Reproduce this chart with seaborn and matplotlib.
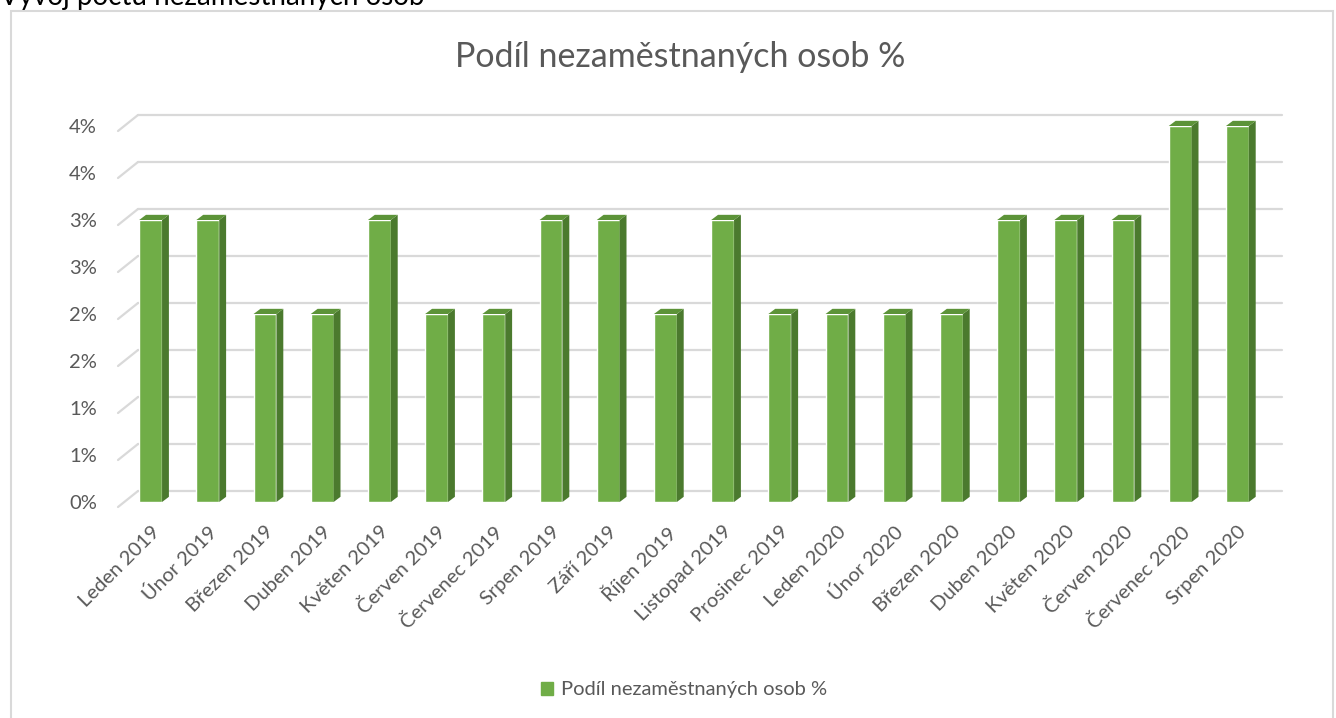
import matplotlib
matplotlib.use("Agg")
import math
import matplotlib.pyplot as plt
import matplotlib.transforms as mtransforms
from matplotlib.patches import Polygon, Rectangle, Patch
from matplotlib.ticker import FuncFormatter
import pandas as pd
import seaborn as sns

# data (percent)
mesice = ["Leden 2019", "Únor 2019", "Březen 2019", "Duben 2019", "Květen 2019",
          "Červen 2019", "Červenec 2019", "Srpen 2019", "Září 2019", "Říjen 2019",
          "Listopad 2019", "Prosinec 2019", "Leden 2020", "Únor 2020", "Březen 2020",
          "Duben 2020", "Květen 2020", "Červen 2020", "Červenec 2020", "Srpen 2020"]
podil = [3, 3, 2, 2, 3, 2, 2, 3, 3, 2, 3, 2, 2, 2, 2, 3, 3, 3, 4, 4]
y_ticks = [0, 0.5, 1, 1.5, 2, 2.5, 3, 3.5, 4]

nazev = "Podíl nezaměstnaných osob %"
nadpis_listu = "Vývoj počtu nezaměstnaných osob"

ZELENA = "#70AD47"
BOK = "#4B7A2E"
VRCH = "#5C9338"
SEDA = "#595959"
MRIZ = "#D9D9D9"

W, H = 1336, 718
sns.set_theme(style="white")
plt.rcParams['font.family'] = ['Lato', 'DejaVu Sans']

fig = plt.figure(figsize=(W / 100, H / 100), dpi=100)
ax = fig.add_axes([122 / W, 216 / H, 1144 / W, 376 / H])

df = pd.DataFrame({"mesic": mesice, "podil": podil})
sns.barplot(data=df, x="mesic", y="podil", color=ZELENA, saturation=1,
            width=0.4, ax=ax, zorder=3)
ax.set_xlim(-0.5, len(mesice) - 0.5)
ax.set_ylim(0, 4)

# zadni stena - mrizka posunuta (3D vzhled)
back = mtransforms.offset_copy(ax.transData, fig=fig, x=16, y=11, units='dots')
for yv in y_ticks:
    ax.plot([-0.5, len(mesice) - 0.5], [yv, yv], color=MRIZ, lw=1.6,
            transform=back, zorder=1, clip_on=False)
    p0 = ax.transData.transform((-0.5, yv))
    p0 = fig.transFigure.inverted().transform(p0 + [-4, -5])
    p1 = fig.transFigure.inverted().transform(back.transform((-0.5, yv)))
    fig.add_artist(plt.Line2D([p0[0], p1[0]], [p0[1], p1[1]],
                              color=MRIZ, lw=1.6))

# bocni a horni steny sloupcu
dx, dy = 0.12, 0.055
for p in list(ax.patches):
    x0, w, h = p.get_x(), p.get_width(), p.get_height()
    ax.add_patch(Polygon([(x0 + w, 0), (x0 + w + dx, dy), (x0 + w + dx, h + dy),
                          (x0 + w, h)], closed=True, fc=BOK, ec='none', zorder=3,
                         clip_on=False))
    ax.add_patch(Polygon([(x0, h), (x0 + w, h), (x0 + w + dx, h + dy),
                          (x0 + dx, h + dy)], closed=True, fc=VRCH, ec='none',
                         zorder=3, clip_on=False))

ax.set_yticks(y_ticks)
ax.yaxis.set_major_formatter(FuncFormatter(lambda v, _: f"{math.floor(v + 0.5)}%"))
ax.tick_params(axis='y', length=0, pad=18, labelsize=14.5, labelcolor=SEDA)
ax.tick_params(axis='x', length=0, pad=15, labelsize=14.5, labelcolor=SEDA)
plt.setp(ax.get_xticklabels(), rotation=45, ha='right', rotation_mode='anchor')
ax.set_xlabel("")
ax.set_ylabel("")
sns.despine(ax=ax, left=True, bottom=True)
ax.grid(False)

fig.text(680 / W, 1 - 67 / H, nazev, ha='center', va='baseline',
         fontsize=24.5, color=SEDA)
fig.text(0, 1 - 5 / H, nadpis_listu, ha='left', va='baseline',
         fontsize=20, color='black')

fig.legend(handles=[Patch(color=ZELENA, label=nazev)], loc='center',
           bbox_to_anchor=(684 / W, 1 - 690 / H), frameon=False,
           fontsize=14.5, handlelength=0.6, handleheight=0.6,
           handletextpad=0.35, labelcolor=SEDA)

fig.add_artist(Rectangle((11 / W, -0.01), (1333 - 11) / W, 1 - 11 / H + 0.01,
                         transform=fig.transFigure, fill=False,
                         ec=MRIZ, lw=1.5))

fig.savefig("out.png", dpi=100)
